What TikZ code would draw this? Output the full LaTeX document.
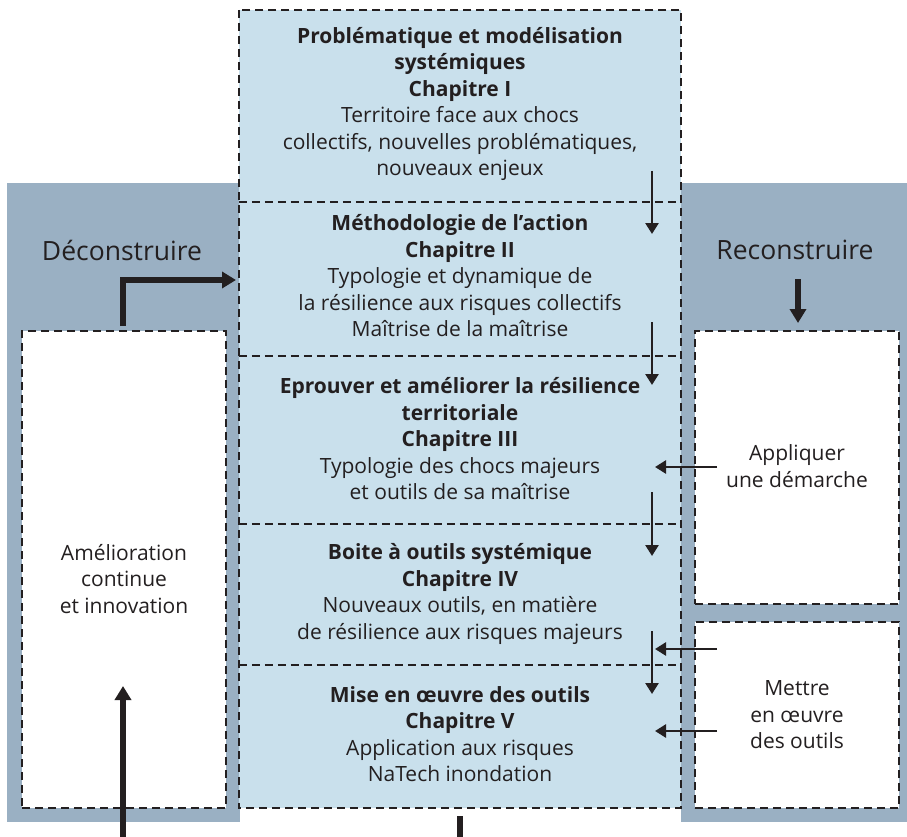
\documentclass[tikz,border=0pt]{standalone}
\usepackage{fontspec}
\setmainfont{Open Sans}
\usetikzlibrary{arrows.meta}
\definecolor{panel}{HTML}{9AB0C3}
\definecolor{lightb}{HTML}{C9E0EC}
\definecolor{ink}{HTML}{231F20}
\begin{document}
\begin{tikzpicture}[x=1pt,y=-1pt,
  dashline/.style={draw=ink, line width=1.8pt, dash pattern=on 8pt off 5pt},
  whitebox/.style={dashline, fill=white, inner sep=0pt},
  sect/.style={inner sep=0pt, minimum width=442pt},
  body/.style={text=ink, align=center, font=\fontsize{21}{26.5}\selectfont},
  biglabel/.style={text=ink, font=\fontsize{26.5}{30}\selectfont},
  thin/.style={draw=ink, line width=2.6pt, -{Triangle[length=11pt,width=13pt]}},
  thick/.style={draw=ink, line width=5.2pt, -{Triangle[length=14pt,width=16pt]}},
  stub/.style={draw=ink, line width=5.2pt}]
\useasboundingbox (0,0) rectangle (907,837);
% grey panels
\fill[panel] (7,183) rectangle (240,822);
\fill[panel] (681,183) rectangle (907,822);
% central column
\fill[lightb] (239,10) rectangle (681,808);
\node[sect, minimum height=192pt] (s1) at (460,106) {};
\node[sect, minimum height=154pt] (s2) at (460,279) {};
\node[sect, minimum height=168pt] (s3) at (460,440) {};
\node[sect, minimum height=141pt] (s4) at (460,594.5) {};
\node[sect, minimum height=143pt] (s5) at (460,736.5) {};
\draw[dashline] (s1.north west) rectangle (s5.south east);
\draw[dashline] (s1.south west) -- (s1.south east);
\draw[dashline] (s2.south west) -- (s2.south east);
\draw[dashline] (s3.south west) -- (s3.south east);
\draw[dashline] (s4.south west) -- (s4.south east);
% texts of the sections
\node[body] (t1) at (460,104) {\textbf{Problématique et modélisation}\\\textbf{systémiques}\\\textbf{Chapitre I}\\Territoire face aux chocs\\collectifs, nouvelles problématiques,\\nouveaux enjeux};
\node[body] (t2) at (460,276) {\textbf{Méthodologie de l’action}\\\textbf{Chapitre II}\\Typologie et dynamique de\\la résilience aux risques collectifs\\Maîtrise de la maîtrise};
\node[body] (t3) at (460,439) {\textbf{Eprouver et améliorer la résilience}\\\textbf{territoriale}\\\textbf{Chapitre III}\\Typologie des chocs majeurs\\et outils de sa maîtrise};
\node[body] (t4) at (460,594) {\textbf{Boite à outils systémique}\\\textbf{Chapitre IV}\\Nouveaux outils, en matière\\de résilience aux risques majeurs};
\node[body] (t5) at (460,734) {\textbf{Mise en œuvre des outils}\\\textbf{Chapitre V}\\Application aux risques\\NaTech inondation};
% side boxes
\node[whitebox, minimum width=204pt, minimum height=477pt] (lb) at (124,569.5) {};
\node[body] (lbt) at (124,579) {Amélioration\\continue\\et innovation};
\node[whitebox, minimum width=204pt, minimum height=273pt] (rb1) at (797,467.5) {};
\node[body] (rb1t) at (797,466) {Appliquer\\une démarche};
\node[whitebox, minimum width=204pt, minimum height=186pt] (rb2) at (797,715) {};
\node[body] (rb2t) at (797,715) {Mettre\\en œuvre\\des outils};
% big labels
\node[biglabel] (dec) at (122,250) {Déconstruire};
\node[biglabel] (rec) at (795,250) {Reconstruire};
% connector end points
\coordinate (a1s) at (652,171); \coordinate (a1e) at (652,234);
\coordinate (a2s) at (652,322); \coordinate (a2e) at (652,385);
\coordinate (a3s) at (652,492); \coordinate (a3e) at (652,556);
\coordinate (a4s) at (652,631); \coordinate (a4e) at (652,694);
\coordinate (h1s) at (717,467); \coordinate (h1e) at (655,467);
\coordinate (h2s) at (717,649); \coordinate (h2e) at (655,649);
\coordinate (h3s) at (717,731); \coordinate (h3e) at (655,731);
\coordinate (ls) at (123,326); \coordinate (lc) at (123,280); \coordinate (le) at (236,280);
\coordinate (rs) at (798,279); \coordinate (re) at (798,323);
\coordinate (bs) at (123,840); \coordinate (be) at (123,686);
\coordinate (cs) at (460,816); \coordinate (ce) at (460,840);
% connectors
\draw[thin] (a1s) -- (a1e);
\draw[thin] (a2s) -- (a2e);
\draw[thin] (a3s) -- (a3e);
\draw[thin] (a4s) -- (a4e);
\draw[thin] (h1s) -- (h1e);
\draw[thin] (h2s) -- (h2e);
\draw[thin] (h3s) -- (h3e);
\draw[thick] (ls) -- (lc) -- (le);
\draw[thick] (rs) -- (re);
\draw[thick] (bs) -- (be);
\draw[stub] (cs) -- (ce);
\end{tikzpicture}
\end{document}
